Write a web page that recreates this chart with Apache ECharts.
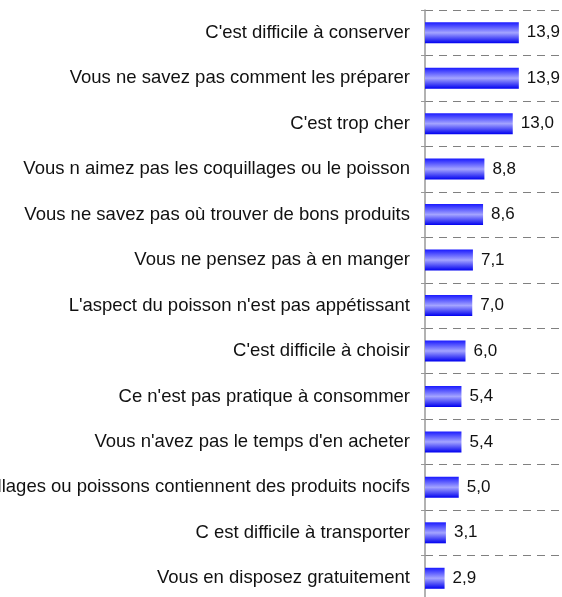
<!DOCTYPE html>
<html>
<head>
<meta charset="utf-8">
<script src="https://cdn.jsdelivr.net/npm/echarts@6/dist/echarts.min.js"></script>
<style>
  html, body { margin: 0; padding: 0; background: #fff; }
  #chart { width: 562px; height: 597px; }
</style>
</head>
<body>
<div id="chart"></div>
<script>
// raisons de ne pas consommer (en %)
const categories = [
  "C'est difficile à conserver",
  'Vous ne savez pas comment les préparer',
  "C'est trop cher",
  'Vous n aimez pas les coquillages ou le poisson',
  'Vous ne savez pas où trouver de bons produits',
  'Vous ne pensez pas à en manger',
  "L'aspect du poisson n'est pas appétissant",
  "C'est difficile à choisir",
  "Ce n'est pas pratique à consommer",
  "Vous n'avez pas le temps d'en acheter",
  'Les coquillages ou poissons contiennent des produits nocifs',
  'C est difficile à transporter',
  'Vous en disposez gratuitement'
]
const values = [13.9, 13.9, 13.0, 8.8, 8.6, 7.1, 7.0, 6.0, 5.4, 5.4, 5.0, 3.1, 2.9]

const chart = echarts.init(document.getElementById('chart'))
chart.setOption({
  animation: false,
  backgroundColor: '#fff',
  grid: {
    left: 425, right: 2, top: 10, height: 591,
    containLabel: false,
    outerBoundsMode: 'none'
  },
  xAxis: {
    type: 'value',
    min: 0,
    max: 20,
    show: false
  },
  yAxis: {
    type: 'category',
    data: categories,
    inverse: true,
    axisLine: { show: true, lineStyle: { color: '#999', width: 1.5 } },
    axisTick: { show: true, length: 4, inside: false, lineStyle: { color: '#999' } },
    // lignes pointillées entre catégories
    splitLine: { show: true, lineStyle: { color: '#808080', type: [8, 6], width: 1 } },
    axisLabel: {
      margin: 15,
      color: '#111',
      fontFamily: 'Liberation Sans',
      fontSize: 18.5
    }
  },
  series: [{
    type: 'bar',
    data: values,
    barWidth: 21,
    itemStyle: {
      color: new echarts.graphic.LinearGradient(0, 0, 0, 1, [
        { offset: 0, color: '#1a1aff' },
        { offset: 0.5, color: '#a4a4ff' },
        { offset: 1, color: '#0000f0' }
      ])
    },
    label: {
      show: true,
      position: 'right',
      distance: 8,
      color: '#111',
      fontFamily: 'Liberation Sans',
      fontSize: 17,
      formatter: p => p.value.toFixed(1).replace('.', ',')
    }
  }]
})
</script>
</body>
</html>
